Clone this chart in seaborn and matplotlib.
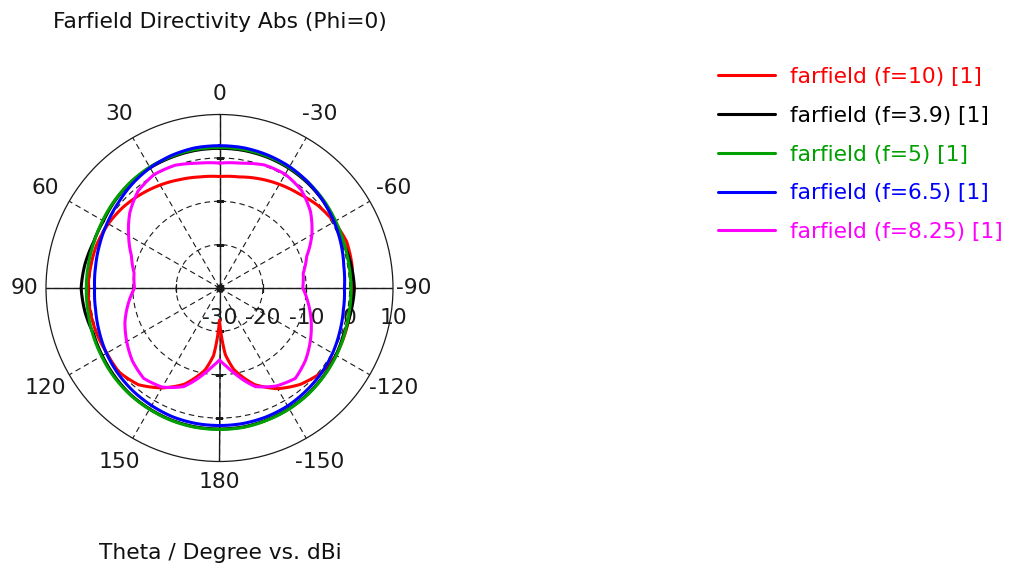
import numpy as np
import pandas as pd
import seaborn as sns
import matplotlib.pyplot as plt
from matplotlib import transforms

# theta in degrees, one half of the cut (0 -> 180)
theta_deg = [0, 10, 20, 30, 40, 50, 60, 70, 80, 90, 100, 110, 120, 130, 140, 150, 160, 170, 175, 180]

# dBi values, left half (theta = +0..+180) and right half (theta = -0..-180)
f10_left = [-4.3, -4.0, -3.4, -2.6, -1.8, -1.0, -0.4, 0.0, 0.1, 0.3, 0.3, 0.2, 0.0, 0.2, -0.9, -3.4, -6.4, -10.8, -14.4, -22.6]
f10_right = [-4.3, -4.0, -3.2, -2.4, -1.6, -0.4, 0.5, 1.2, 1.0, 0.6, 0.6, 0.8, 1.0, 0.5, -1.0, -3.2, -6.3, -10.9, -14.6, -22.6]

f39_left = [2.2, 2.2, 2.1, 2.0, 1.8, 1.4, 0.9, 0.9, 1.5, 1.9, 1.5, 0.9, 1.2, 1.6, 2.0, 2.2, 2.4, 2.5, 2.5, 2.5]
f39_right = [2.2, 2.2, 2.1, 1.9, 1.6, 1.2, 0.6, 0.4, 0.8, 1.1, 0.8, 0.5, 1.0, 1.4, 1.8, 2.1, 2.3, 2.5, 2.5, 2.5]

f5_left = [2.4, 2.4, 2.3, 2.2, 1.9, 1.5, 1.1, 0.8, 0.7, 0.7, 0.8, 1.1, 1.4, 1.8, 2.1, 2.3, 2.5, 2.6, 2.6, 2.6]
f5_right = [2.4, 2.4, 2.3, 2.1, 1.8, 1.4, 0.9, 0.5, 0.3, 0.3, 0.4, 0.7, 1.1, 1.5, 1.9, 2.2, 2.4, 2.6, 2.6, 2.6]

f65_left = [2.8, 2.8, 2.5, 2.0, 1.3, 0.5, -0.1, -0.6, -1.0, -1.2, -1.0, -0.5, 0.1, 0.6, 1.0, 1.3, 1.6, 1.7, 1.7, 1.7]
f65_right = [2.8, 2.8, 2.6, 2.3, 1.8, 1.2, 0.5, -0.2, -0.9, -1.2, -1.0, -0.5, 0.1, 0.6, 1.0, 1.4, 1.6, 1.7, 1.7, 1.7]

f825_left = [-1.2, -0.8, 0.1, 0.2, -0.8, -3.0, -5.8, -8.4, -10.0, -10.4, -8.6, -6.8, -5.3, -3.8, -2.8, -3.6, -5.8, -10.0, -11.9, -13.4]
f825_right = [-1.2, -0.8, 0.2, 0.3, -0.6, -2.6, -5.4, -8.6, -10.4, -10.8, -9.2, -7.5, -5.8, -4.1, -2.8, -3.9, -5.8, -10.0, -11.9, -13.4]

labels = ['farfield (f=10) [1]', 'farfield (f=3.9) [1]', 'farfield (f=5) [1]',
          'farfield (f=6.5) [1]', 'farfield (f=8.25) [1]']
colors = ['#ff0000', '#000000', '#00a000', '#0000ff', '#ff00ff']
halves = [(f10_left, f10_right), (f39_left, f39_right), (f5_left, f5_right),
          (f65_left, f65_right), (f825_left, f825_right)]

angle_ticks = [0, 30, 60, 90, 120, 150, 180, 210, 240, 270, 300, 330]
angle_labels = ['0', '30', '60', '90', '120', '150', '180', '-150', '-120', '-90', '-60', '-30']
r_grid = [-20, -10, 0]
r_labels = [-30, -20, -10, 0, 10]

# long table: left half goes 0..180 ccw, right half continues 180..360
rows = []
for lab, (left, right) in zip(labels, halves):
    for t, v in zip(theta_deg, left):
        rows.append((lab, np.deg2rad(t), v))
    for t, v in zip(theta_deg[::-1][1:], right[::-1][1:]):
        rows.append((lab, np.deg2rad(360 - t), v))
df = pd.DataFrame(rows, columns=['series', 'theta', 'dBi'])

sns.set_theme(style='white')
plt.rcParams['font.family'] = ['DejaVu Sans']
FS = 15.7

fig = plt.figure(figsize=(10.17, 5.72), dpi=100)
ax = fig.add_axes([46 / 1017, 110.5 / 572, 347 / 1017, 347 / 572], projection='polar')

sns.lineplot(data=df, x='theta', y='dBi', hue='series', hue_order=labels,
             palette=dict(zip(labels, colors)), sort=False, estimator=None,
             linewidth=2.2, legend=False, ax=ax, zorder=3)
handles = ax.get_lines()[:5]
# let the polar transform draw each segment as an arc
for ln in handles:
    ln.get_path()._interpolation_steps = 12

ax.set_theta_zero_location('N')
ax.set_theta_direction(1)
ax.set_ylim(-30, 10)
ax.set_thetagrids(angle_ticks, [''] * len(angle_ticks))
ax.set_rgrids(r_grid)
ax.set_yticklabels([])
ax.set_xlabel('')
ax.set_ylabel('')
ax.grid(True, color='k', linestyle=(0, (5, 3.5)), linewidth=0.8)
ax.spines['polar'].set_color('k')
ax.spines['polar'].set_linewidth(0.9)

# angle labels, centred a little outside the rim
for t, lab in zip(angle_ticks, angle_labels):
    a = np.deg2rad(t)
    d = 21 + 7 * abs(np.sin(2 * a))
    tr = transforms.offset_copy(ax.transData, fig=fig, x=-d * np.sin(a),
                                y=d * np.cos(a), units='dots')
    ax.text(a, 10, lab, transform=tr, ha='center', va='center', fontsize=FS,
            color='k', clip_on=False)

# solid cross through the centre
for t in [0, np.pi / 2, np.pi, 3 * np.pi / 2]:
    ax.axvline(t, color='k', linewidth=1.0, zorder=2)
ax.plot([np.pi / 2] * 3 + [3 * np.pi / 2] * 3, r_grid * 2, ls='none', marker='|',
        ms=6, color='k', mew=0.9, zorder=2)
ax.plot([0] * 3 + [np.pi] * 3, r_grid * 2, ls='none', marker='_',
        ms=6, color='k', mew=0.9, zorder=2)
ax.plot([0], [-30], 'o', color='k', ms=5, zorder=4)

# radial labels below the horizontal axis
off = transforms.offset_copy(ax.transData, fig=fig, x=0, y=-30, units='dots')
for v in r_labels:
    ax.text(3 * np.pi / 2, v, str(v), transform=off, ha='center', va='center',
            fontsize=FS, color='k', zorder=1, clip_on=False)

fig.text(220 / 1017, 1 - 22 / 572, 'Farfield Directivity Abs (Phi=0)', ha='center',
         va='center', fontsize=FS, color='#111111')
fig.text(220 / 1017, 1 - 553 / 572, 'Theta / Degree vs. dBi', ha='center',
         va='center', fontsize=FS, color='#111111')

fig.legend(handles, labels, loc='upper left', bbox_to_anchor=(718 / 1017, 1 - 67 / 572),
           frameon=False, fontsize=FS, handlelength=2.6, handletextpad=0.7,
           labelspacing=0.86, labelcolor='linecolor', borderpad=0, borderaxespad=0)

fig.savefig('out.png', dpi=100)
